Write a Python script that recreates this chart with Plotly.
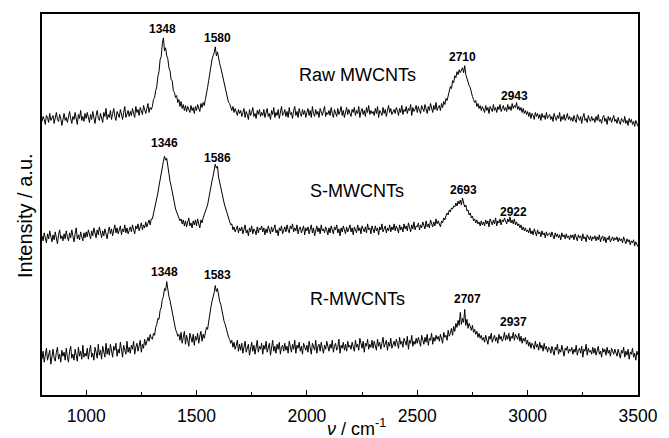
import plotly.graph_objects as go

# Raman shift grid (cm^-1), 5 cm^-1 steps
wavenumber = list(range(800, 3501, 5))

# Intensities (a.u., offset-stacked); each row = 100 cm^-1
raw_mwcnts = [
    275,280,277,272,281,279,274,283,276,278,281,273,279,284,277,275,282,278,271,280,
    283,276,279,274,281,285,278,273,280,277,284,279,272,282,278,286,276,280,275,283,
    278,284,280,274,282,277,285,279,273,281,286,278,276,283,279,274,284,280,288,277,
    282,279,286,277,283,288,280,276,285,281,279,287,283,277,284,290,279,282,286,280,
    285,281,288,283,279,290,284,287,281,289,285,282,291,286,283,288,293,284,289,287,
    290,297,299,306,310,320,325,337,340,353,359,346,349,341,338,329,326,317,316,306,
    304,299,301,294,297,290,295,288,292,286,291,285,290,287,284,291,286,289,283,290,
    286,292,288,285,293,289,294,291,297,302,309,316,324,330,337,341,344,350,341,345,
    338,333,329,324,319,313,308,303,299,294,293,289,286,290,284,288,285,281,287,283,
    286,280,284,288,279,285,282,277,287,281,284,289,280,283,278,286,282,287,280,284,
    281,287,279,284,288,280,283,277,286,282,289,279,284,281,287,278,285,290,281,283,
    287,280,285,279,289,282,284,278,286,290,281,285,279,288,283,280,287,282,286,279,
    284,288,281,286,279,290,283,280,287,282,285,279,288,284,281,286,290,280,284,282,
    286,281,289,283,279,287,284,280,288,282,285,290,281,286,279,284,289,282,287,283,
    280,287,284,289,281,286,283,290,279,285,288,282,286,280,289,284,291,282,286,283,
    285,281,288,283,290,279,286,284,281,289,283,287,280,286,291,284,288,282,285,287,
    283,289,286,281,288,284,291,282,287,285,290,283,288,286,292,281,289,285,287,291,
    284,290,286,283,291,288,285,292,287,283,290,286,293,288,284,291,287,294,286,289,
    291,286,293,289,295,292,298,296,301,305,310,308,316,314,321,319,325,322,327,324,
    326,329,324,331,322,318,315,311,309,303,300,297,294,296,290,293,288,291,286,290,
    287,284,291,286,289,283,290,287,285,292,286,289,284,290,287,292,285,288,291,286,
    289,285,292,287,290,286,293,288,291,289,294,287,290,286,289,284,288,283,286,282,
    285,280,284,278,283,281,277,284,280,283,278,282,276,283,279,281,277,284,278,280,
    282,277,280,275,283,279,276,281,278,284,275,280,277,282,276,279,283,277,280,276,
    279,275,281,277,274,282,278,276,280,273,279,283,276,278,274,281,277,275,280,276,
    278,274,280,276,282,275,277,273,279,281,275,278,272,280,276,279,274,277,281,275,
    277,273,279,275,272,278,276,274,280,273,276,271,278,274,277,272,275,270,276,273,
    270,
]

s_mwcnts = [
    160,155,163,158,153,162,157,165,159,154,161,156,164,158,152,161,166,157,160,155,
    162,157,165,159,155,163,158,166,160,154,162,168,157,161,156,164,159,155,163,158,
    164,159,166,161,157,165,160,168,162,158,166,161,169,163,158,165,160,167,162,157,
    164,169,162,167,160,166,171,163,168,162,165,170,161,167,164,171,163,168,162,166,
    169,164,171,166,162,170,167,172,165,169,173,166,171,168,174,169,172,176,171,177,
    177,182,186,192,197,203,210,217,224,231,235,240,236,238,229,224,215,210,203,199,
    193,187,184,180,179,175,177,172,176,170,175,169,174,178,170,173,168,175,171,176,
    170,177,172,168,176,173,178,181,183,188,191,197,204,208,215,220,225,232,228,230,
    219,213,208,203,198,193,189,185,181,178,175,171,172,166,169,164,167,170,163,168,
    165,169,162,167,171,163,166,160,168,164,170,162,167,165,161,169,163,168,166,170,
    164,168,161,167,163,170,165,162,169,164,167,171,163,166,160,168,165,170,162,167,
    169,164,171,166,163,170,167,172,164,168,165,171,162,167,169,163,166,170,161,168,
    165,169,162,167,171,163,168,160,166,170,164,168,162,171,165,167,163,169,166,161,
    168,163,170,165,162,169,166,171,163,167,160,168,164,170,165,162,169,164,167,171,
    164,168,161,169,166,163,171,165,168,162,170,166,164,169,163,172,166,168,162,170,
    166,163,170,165,168,161,169,166,172,164,167,170,163,168,165,171,164,169,166,172,
    165,170,167,163,171,166,169,164,172,167,170,165,173,168,164,171,167,174,166,170,
    169,173,166,171,168,174,170,167,175,169,172,168,176,171,169,174,170,177,172,175,
    172,169,175,173,178,176,180,183,181,186,184,188,187,190,189,193,190,195,192,196,
    191,198,193,189,191,185,186,181,183,178,180,175,177,173,176,172,174,170,175,171,
    174,170,176,172,175,169,177,173,171,176,172,178,170,175,173,177,171,176,174,178,
    175,172,177,174,179,173,176,172,177,171,174,170,172,168,171,166,169,165,168,164,
    166,163,168,162,165,161,167,163,160,166,162,164,159,165,161,163,158,164,160,162,
    163,159,164,160,157,163,159,162,158,161,156,163,159,161,157,162,158,160,156,161,
    158,161,156,162,159,155,161,158,160,155,162,157,159,154,161,158,156,160,155,159,
    157,160,155,159,156,161,154,158,160,155,159,153,158,156,160,154,157,159,155,158,
    156,159,154,158,155,157,153,159,155,152,157,154,156,151,155,153,156,150,154,152,
    149,
]

r_mwcnts = [
    36,44,33,41,47,35,39,45,31,42,46,37,34,43,48,36,41,33,45,39,
    43,35,47,38,33,44,49,37,41,35,46,40,34,48,39,44,36,50,38,42,
    39,47,36,44,50,38,42,35,48,43,37,51,40,45,36,49,42,38,52,41,
    47,40,51,43,38,49,45,52,39,46,42,53,44,38,50,46,41,54,43,48,
    42,50,46,54,41,48,52,44,49,55,43,51,47,56,50,53,58,54,61,57,
    56,62,60,68,71,77,76,85,88,96,99,107,105,114,103,99,95,89,83,76,
    72,66,63,59,61,55,63,52,58,64,51,60,55,49,62,57,53,61,50,59,
    55,62,52,59,64,54,61,57,63,68,66,75,79,88,94,98,103,110,104,107,
    99,94,91,84,79,74,71,66,63,58,56,52,55,48,53,46,50,55,44,51,
    45,52,42,49,54,43,47,51,40,48,53,44,50,41,47,55,43,49,46,52,
    41,50,46,54,43,48,52,40,47,55,44,49,42,51,46,53,41,48,50,44,
    52,45,49,42,54,47,43,51,46,55,42,50,47,53,44,49,41,52,48,45,
    50,43,54,47,41,52,48,45,55,42,49,51,44,53,47,42,50,46,54,48,
    44,51,47,55,43,49,52,45,48,56,42,50,47,53,45,51,44,54,48,50,
    46,53,49,44,55,48,51,45,57,50,47,54,43,52,49,56,46,51,48,55,
    47,54,50,45,56,49,53,46,52,58,48,51,55,45,53,49,57,47,52,54,
    49,56,52,47,58,51,54,48,57,53,50,59,46,55,52,60,49,54,51,57,
    52,58,54,49,60,55,51,58,53,61,50,57,55,62,51,58,54,60,56,59,
    54,61,57,52,63,58,60,55,65,59,62,67,60,69,64,72,68,75,70,83,
    71,77,73,86,70,76,67,72,69,65,70,63,66,61,64,58,62,57,60,55,
    58,53,60,55,51,59,56,62,53,57,60,54,58,52,61,56,59,54,57,63,
    55,60,56,62,54,59,57,63,55,61,58,56,62,54,59,52,57,54,58,51,
    55,49,53,47,52,50,46,54,48,51,45,53,47,50,44,52,46,49,43,48,
    47,42,49,44,40,48,45,51,41,46,43,50,44,39,47,45,49,42,46,44,
    48,41,46,43,50,40,45,47,42,49,38,46,44,51,40,47,43,45,41,48,
    42,47,40,45,49,41,44,38,47,43,46,40,48,42,45,39,47,44,41,46,
    43,39,46,41,37,45,42,48,38,44,40,46,36,43,41,47,38,42,35,44,
    40,
]

sample_names = ["Raw MWCNTs", "S-MWCNTs", "R-MWCNTs"]
peak_labels = [
    ["1348", "1580", "2710", "2943"],
    ["1346", "1586", "2693", "2922"],
    ["1348", "1583", "2707", "2937"],
]

# label placement (layout only)
name_pos = [(2227, 322), (2227, 205), (2227, 97)]
peak_pos = [
    [(1344, 368), (1597, 359), (2703, 340), (2939, 301)],
    [(1357, 253), (1593, 238), (2708, 206), (2934, 184)],
    [(1353, 124), (1593, 121), (2726, 97), (2934, 73)],
]

FONT = "Liberation Sans, Arial, sans-serif"

fig = go.Figure()
for ys in (raw_mwcnts, s_mwcnts, r_mwcnts):
    fig.add_trace(go.Scatter(x=wavenumber, y=ys, mode="lines",
                             line=dict(color="black", width=1),
                             showlegend=False, hoverinfo="skip"))

annotations = []
for name, (nx, ny) in zip(sample_names, name_pos):
    annotations.append(dict(x=nx, y=ny, xref="x", yref="y", text=name,
                            showarrow=False, font=dict(family=FONT, size=18, color="black"),
                            xanchor="center", yanchor="middle"))
for labels, poss in zip(peak_labels, peak_pos):
    for lab, (px, py) in zip(labels, poss):
        annotations.append(dict(x=px, y=py, xref="x", yref="y", text="<b>%s</b>" % lab,
                                showarrow=False, font=dict(family=FONT, size=12, color="black"),
                                xanchor="center", yanchor="middle"))

annotations.append(dict(x=0.5285, y=-0.084, xref="paper", yref="paper",
                        text="<i>ν</i> / cm<sup>-1</sup>",
                        showarrow=False, font=dict(family=FONT, size=18, color="black"),
                        xanchor="center", yanchor="middle"))
annotations.append(dict(x=-0.0285, y=0.47, xref="paper", yref="paper",
                        text="Intensity / a.u.", textangle=-90,
                        showarrow=False, font=dict(family=FONT, size=20, color="black"),
                        xanchor="center", yanchor="middle"))

fig.update_layout(
    width=661, height=430,
    margin=dict(l=34, r=31, t=4, b=43),
    paper_bgcolor="white", plot_bgcolor="white",
    annotations=annotations,
    xaxis=dict(range=[800, 3500], showline=True, linecolor="black", linewidth=1.5,
               mirror=True, showgrid=False, zeroline=False,
               ticks="inside", ticklen=5, tickwidth=1.2, tickcolor="black",
               tick0=0, dtick=500, ticklabelstandoff=4,
               minor=dict(ticks="inside", ticklen=3, tickwidth=1, tickcolor="black", dtick=250, tick0=0, showgrid=False),
               tickfont=dict(family=FONT, size=17.5, color="black")),
    yaxis=dict(range=[0, 383], showline=True, linecolor="black", linewidth=1.5,
               mirror=True, showgrid=False, zeroline=False, showticklabels=False,
               ticks=""),
)

fig.write_html("out.html")
